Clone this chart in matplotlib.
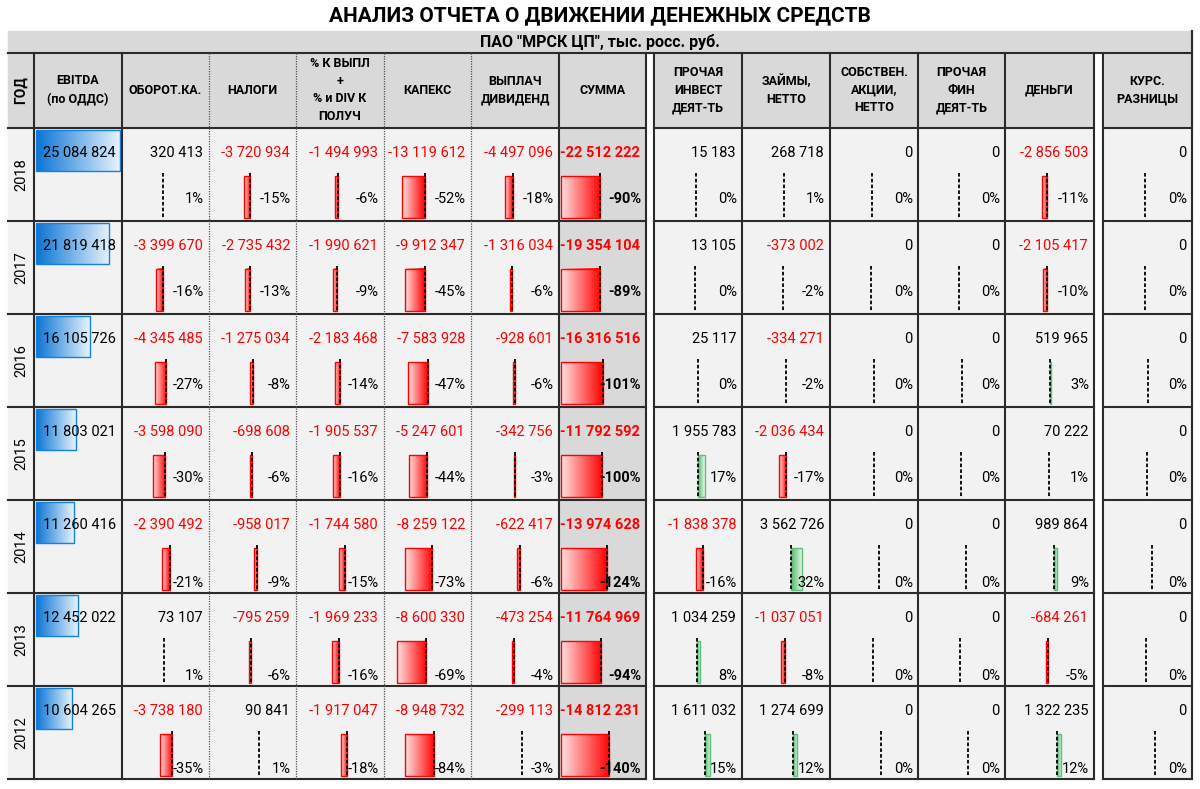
import matplotlib
matplotlib.use("Agg")
import numpy as np
import matplotlib.pyplot as plt
from matplotlib.patches import Rectangle
from matplotlib.colors import LinearSegmentedColormap

plt.rcParams['font.family'] = ['Roboto', 'DejaVu Sans']

# data, thousand rubles, rows from 2018 down to 2012
years = [2018, 2017, 2016, 2015, 2014, 2013, 2012]
ebitda = [25084824, 21819418, 16105726, 11803021, 11260416, 12452022, 10604265]
oborot = [320413, -3399670, -4345485, -3598090, -2390492, 73107, -3738180]
nalogi = [-3720934, -2735432, -1275034, -698608, -958017, -795259, 90841]
procent = [-1494993, -1990621, -2183468, -1905537, -1744580, -1969233, -1917047]
capex = [-13119612, -9912347, -7583928, -5247601, -8259122, -8600330, -8948732]
divid = [-4497096, -1316034, -928601, -342756, -622417, -473254, -299113]
summa = [-22512222, -19354104, -16316516, -11792592, -13974628, -11764969, -14812231]
invest = [15183, 13105, 25117, 1955783, -1838378, 1034259, 1611032]
zaimy = [268718, -373002, -334271, -2036434, 3562726, -1037051, 1274699]
akcii = [0, 0, 0, 0, 0, 0, 0]
prochfin = [0, 0, 0, 0, 0, 0, 0]
dengi = [-2856503, -2105417, 519965, 70222, 989864, -684261, 1322235]
kurs = [0, 0, 0, 0, 0, 0, 0]

headers = ["ОБОРОТ.КА.", "НАЛОГИ", "% К ВЫПЛ\n+\n% и DIV К\nПОЛУЧ", "КАПЕКС",
           "ВЫПЛАЧ\nДИВИДЕНД", "СУММА", "ПРОЧАЯ\nИНВЕСТ\nДЕЯТ-ТЬ", "ЗАЙМЫ,\nНЕТТО",
           "СОБСТВЕН.\nАКЦИИ,\nНЕТТО", "ПРОЧАЯ\nФИН\nДЕЯТ-ТЬ", "ДЕНЬГИ",
           "КУРС.\nРАЗНИЦЫ"]
columns = [oborot, nalogi, procent, capex, divid, summa, invest, zaimy,
           akcii, prochfin, dengi, kurs]

title = "АНАЛИЗ ОТЧЕТА О ДВИЖЕНИИ ДЕНЕЖНЫХ СРЕДСТВ"
subtitle = 'ПАО "МРСК ЦП", тыс. росс. руб.'

# layout in pixels
lefts = [122, 209, 296, 384, 471, 559, 654, 742, 830, 918, 1005, 1103]
rights = [209, 296, 384, 471, 559, 646, 742, 830, 918, 1005, 1094, 1192]
dotted_after = [0, 1, 2, 3]
sum_col = 5
row_top0 = 128
row_h = 93
pct_dy = [71, 71, 71, 71, 83, 83, 83]

RED = '#ff0000'
GREEN = '#63be7b'
BLUE = '#1581dc'
LINE = '#2b2b2b'
cm_red = LinearSegmentedColormap.from_list('r', ['#ffe3e3', RED])
cm_green = LinearSegmentedColormap.from_list('g', ['#4fb86c', '#eef8f1'])
cm_blue = LinearSegmentedColormap.from_list('b', ['#0a74d4', '#e6f3fd'])
grad = np.linspace(0, 1, 256).reshape(1, -1)


def fmt(v):
    return f"{v:,}".replace(",", " ")


def gbar(ax, x0, x1, y0, y1, cmap, edge):
    if x1 - x0 < 1:
        return
    ax.imshow(grad, cmap=cmap, extent=(x0, x1, y1, y0), aspect='auto',
              interpolation='bilinear', zorder=3)
    ax.add_patch(Rectangle((x0, y0), x1 - x0, y1 - y0, fill=False,
                           edgecolor=edge, lw=1.0, zorder=4))


fig = plt.figure(figsize=(12, 7.89), dpi=100)
ax = fig.add_axes([0, 0, 1, 1])
ax.axis('off')

n = len(years)
bottom = row_top0 + n * row_h

# backgrounds
ax.add_patch(Rectangle((8, 31), 1184, 22, color='#d9d9d9', zorder=0))
ax.add_patch(Rectangle((8, 53), 1184, 75, color='#d9d9d9', zorder=0))
ax.add_patch(Rectangle((8, 128), 1184, bottom - 128, color='#f2f2f2', zorder=0))
ax.add_patch(Rectangle((lefts[sum_col], 128), rights[sum_col] - lefts[sum_col],
                       bottom - 128, color='#d9d9d9', zorder=0))
for gx0, gx1 in [(646, 654), (1094, 1103)]:
    ax.add_patch(Rectangle((gx0, 53), gx1 - gx0, bottom - 53, color='white', zorder=1))

ax.text(600, 16, title, ha='center', va='center', fontsize=15, fontweight='bold')
ax.text(600, 42, subtitle, ha='center', va='center', fontsize=11.5, fontweight='bold')

# header
ax.text(21, 90, "ГОД", rotation=90, ha='center', va='center', fontsize=10, fontweight='bold')
ax.text(78, 90, "EBITDA\n(по ОДДС)", ha='center', va='center', fontsize=9,
        fontweight='bold', linespacing=1.5)
for j, h in enumerate(headers):
    ax.text((lefts[j] + rights[j]) / 2, 90, h, ha='center', va='center',
            fontsize=9, fontweight='bold', linespacing=1.45)

# grid lines
ax.plot([8, 1192], [53, 53], color=LINE, lw=1.5, zorder=5)
for yy in [row_top0 + i * row_h for i in range(n + 1)]:
    for sx0, sx1 in [(8, 646), (654, 1094), (1103, 1192)]:
        ax.plot([sx0, sx1], [yy, yy], color=LINE, lw=1.5, zorder=5)
for xx in [34, 122, 559, 646, 654, 742, 830, 918, 1005, 1094, 1103]:
    ax.plot([xx, xx], [53, bottom], color=LINE, lw=1.5, zorder=5)
ax.plot([1192, 1192], [31, bottom], color=LINE, lw=1.5, zorder=5)
for j in dotted_after:
    ax.plot([rights[j], rights[j]], [53, bottom], color='#555555', lw=0.9,
            ls=(0, (1, 1)), zorder=5)

emax = max(ebitda)
for i, yr in enumerate(years):
    top = row_top0 + i * row_h
    ax.text(21, top + row_h / 2, str(yr), rotation=90, ha='center', va='center',
            fontsize=10.5)
    # EBITDA bar
    gbar(ax, 36, 36 + ebitda[i] / emax * 84, top + 2, top + 43, cm_blue, BLUE)
    ax.text(116, top + 25, fmt(ebitda[i]), ha='right', va='center', fontsize=10.5,
            zorder=6)

    pcts = [c[i] / ebitda[i] * 100 for c in columns]
    lo = min(min(pcts), 0)
    hi = max(max(pcts), 100)
    for j, col in enumerate(columns):
        v = col[i]
        p = pcts[j]
        bold = 'bold' if j == sum_col else 'normal'
        ax.text(rights[j] - 6, top + 25, fmt(v), ha='right', va='center',
                fontsize=10.5, color=RED if v < 0 else 'black', fontweight=bold,
                zorder=6)
        ax.text(rights[j] - 5, top + pct_dy[i], f"{int(round(p))}%", ha='right',
                va='center', fontsize=10.5, fontweight=bold, zorder=6)
        x0 = lefts[j] + 2
        w = rights[j] - lefts[j] - 4
        scale = w / (hi - lo)
        axis_x = x0 - lo * scale
        if p < 0:
            gbar(ax, axis_x + p * scale, axis_x, top + 48, top + 90, cm_red, RED)
        elif p > 0:
            gbar(ax, axis_x, axis_x + p * scale, top + 48, top + 90, cm_green, GREEN)
        ax.plot([axis_x, axis_x], [top + 45, top + 91], color='black', lw=1.3,
                ls=(0, (2, 1.2)), zorder=5)

ax.set_xlim(0, 1200)
ax.set_ylim(789, 0)
fig.savefig("out.png", dpi=100)
